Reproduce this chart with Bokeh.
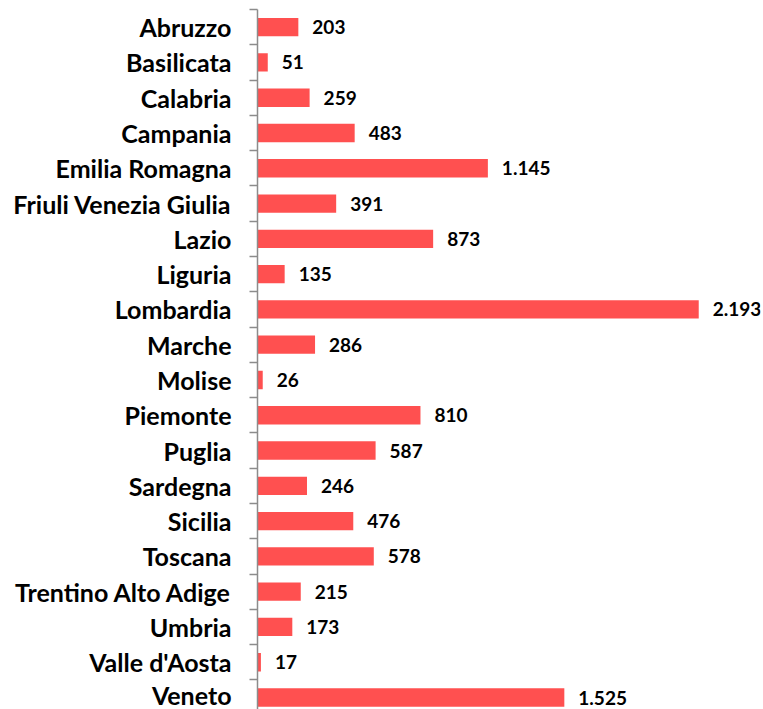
from bokeh.plotting import figure
from bokeh.models import Range1d, FixedTicker, ColumnDataSource
from bokeh.core.properties import value
from bokeh.embed import file_html
from bokeh.resources import INLINE

regions = ["Abruzzo", "Basilicata", "Calabria", "Campania", "Emilia Romagna",
           "Friuli Venezia Giulia", "Lazio", "Liguria", "Lombardia", "Marche",
           "Molise", "Piemonte", "Puglia", "Sardegna", "Sicilia", "Toscana",
           "Trentino Alto Adige", "Umbria", "Valle d'Aosta", "Veneto"]
counts = [203, 51, 259, 483, 1145, 391, 873, 135, 2193, 286,
          26, 810, 587, 246, 476, 578, 215, 173, 17, 1525]

idx = list(range(len(regions)))
labels = [f"{v:,}".replace(",", ".") for v in counts]
src = ColumnDataSource(dict(y=idx, v=counts, lab=labels))

p = figure(width=762, height=709, output_backend="svg", toolbar_location=None,
           x_range=Range1d(0, 2500), y_range=Range1d(19.34, -0.5),
           x_axis_location=None, frame_width=503, frame_height=700,
           min_border_left=257, min_border_right=2, min_border_top=9, min_border_bottom=0)
p.outline_line_color = None
p.grid.visible = False
p.background_fill_color = "white"

p.hbar(y="y", left=0, right="v", height=0.52, source=src,
       fill_color="#FF5050", line_color=None)
p.text(x="v", y="y", text="lab", source=src, x_offset=14,
       text_baseline="middle", text_align="left",
       text_font=value("Lato"), text_font_style="bold",
       text_font_size="19px", text_color="#000000")

ax = p.yaxis[0]
ax.ticker = FixedTicker(ticks=idx, minor_ticks=[i - 0.5 for i in range(len(regions) + 1)])
ax.major_label_overrides = {i: r for i, r in enumerate(regions)}
ax.major_tick_line_color = None
ax.major_tick_out = 0
ax.major_tick_in = 0
ax.minor_tick_out = 8
ax.minor_tick_in = 0
ax.minor_tick_line_color = "#8c8c8c"
ax.axis_line_color = "#8c8c8c"
ax.axis_line_width = 1.5
ax.minor_tick_line_width = 1.5
ax.major_label_standoff = 18
ax.major_label_text_font = "Lato"
ax.major_label_text_font_style = "bold"
ax.major_label_text_font_size = "25px"
ax.major_label_text_color = "#000000"

open("out.html", "w").write(file_html(p, INLINE))
